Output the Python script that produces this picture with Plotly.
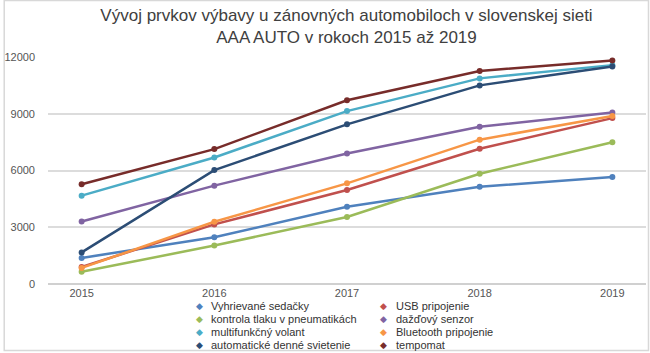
import plotly.graph_objects as go

years = ["2015", "2016", "2017", "2018", "2019"]

names = [
    "Vyhrievané sedačky",
    "USB pripojenie",
    "kontrola tlaku v pneumatikách",
    "dažďový senzor",
    "multifunkčný volant",
    "Bluetooth pripojenie",
    "automatické denné svietenie",
    "tempomat",
]

vyhrievane = [1380, 2470, 4080, 5140, 5650]
usb = [900, 3150, 4970, 7150, 8770]
kontrola = [650, 2030, 3540, 5830, 7490]
dazdovy = [3300, 5200, 6900, 8310, 9060]
multifunkcny = [4670, 6690, 9140, 10870, 11570]
bluetooth = [850, 3290, 5320, 7630, 8880]
automaticke = [1670, 6020, 8440, 10500, 11500]
tempomat = [5270, 7130, 9710, 11260, 11810]

series = [vyhrievane, usb, kontrola, dazdovy, multifunkcny, bluetooth, automaticke, tempomat]
colors = ["#4F81BD", "#C0504D", "#9BBB59", "#8064A2", "#4BACC6", "#F79646", "#2C4D75", "#772C2A"]

y_ticks = [0, 3000, 6000, 9000, 12000]

W, H = 650, 353
ML, MR, MT, MB = 45, 4, 57, 69
PW, PH = W - ML - MR, H - MT - MB


def px(x):
    return (x - ML) / PW


def py(y):
    return (H - MB - y) / PH


fig = go.Figure()
for name, vals, col in zip(names, series, colors):
    fig.add_trace(go.Scatter(
        x=years, y=vals, name=name, mode="lines+markers",
        line=dict(color=col, width=2.5),
        marker=dict(color=col, size=6),
        showlegend=False,
    ))

annotations = []
col_x = [(194, 210), (379, 396)]
row_y = [305.5, 318.5, 331.5, 344.5]
for i, (name, col) in enumerate(zip(names, colors)):
    r, c = divmod(i, 2)
    mx, tx = col_x[c]
    yy = py(row_y[r])
    annotations.append(dict(
        x=px(mx + 3), y=yy, xref="paper", yref="paper", xanchor="center", yanchor="middle",
        text="◆", showarrow=False, font=dict(size=9, color=col),
    ))
    annotations.append(dict(
        x=px(tx - 3), y=yy, xref="paper", yref="paper", xanchor="left", yanchor="middle",
        text=name, showarrow=False, font=dict(size=11, color="#333333"),
    ))

fig.update_layout(
    width=W, height=H,
    margin=dict(l=ML, r=MR, t=MT, b=MB),
    paper_bgcolor="white", plot_bgcolor="white",
    font=dict(family="Liberation Sans, Arial, sans-serif", color="#555555", size=11),
    title=dict(
        text="Vývoj prvkov výbavy u zánovných automobiloch v slovenskej sieti<br>AAA AUTO v rokoch 2015 až 2019",
        x=px(345), xref="paper", xanchor="center",
        y=1 - 21 / H, yref="container", yanchor="top",
        font=dict(size=17, color="#404040"),
    ),
    xaxis=dict(
        type="category", showgrid=False, ticks="", showline=False,
        tickfont=dict(size=11, color="#555555"), ticklabelstandoff=1,
    ),
    yaxis=dict(
        range=[0, 12000], tickvals=y_ticks, ticktext=[str(v) for v in y_ticks],
        showgrid=True, gridcolor="#DCDCDC", gridwidth=1.5, zeroline=True,
        zerolinecolor="#D0D0D0", zerolinewidth=2,
        ticks="", ticklabelstandoff=12, tickfont=dict(size=11, color="#555555"),
    ),
    annotations=annotations,
    shapes=[dict(
        type="rect", xref="paper", yref="paper",
        x0=px(1), x1=px(648.5), y0=py(350.5), y1=py(0.5),
        line=dict(color="#D8D8D8", width=1.5), layer="below",
    )],
)

fig.write_html("out.html")
